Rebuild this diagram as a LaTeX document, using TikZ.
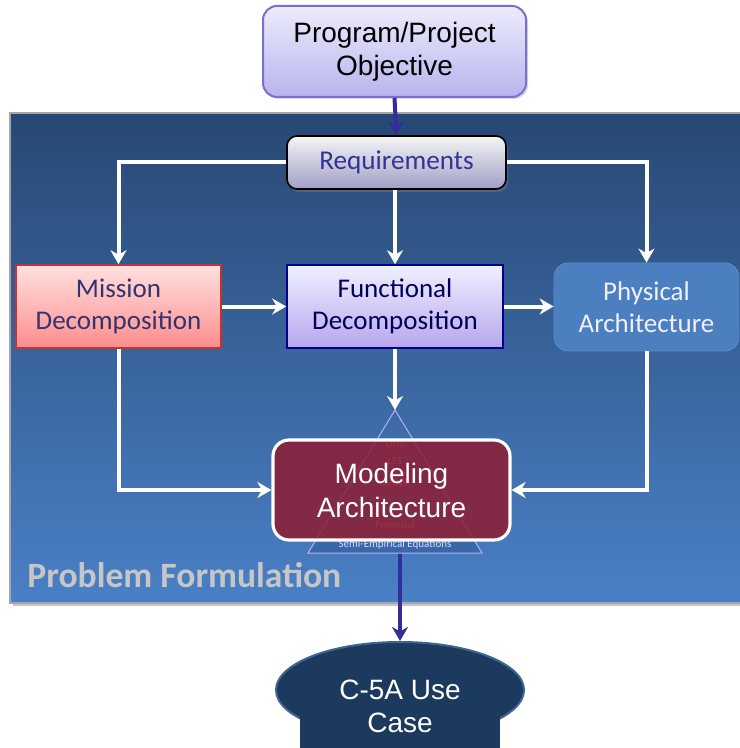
\documentclass[tikz,border=0pt]{standalone}
\usepackage{fontspec}
\setmainfont{Carlito}
\newfontfamily\arialfont{Liberation Sans}
\usetikzlibrary{arrows.meta,shadows,shapes.geometric,backgrounds}

\definecolor{panelTop}{HTML}{284873}
\definecolor{panelBot}{HTML}{4A80C6}
\definecolor{feedBlue}{HTML}{352C9C}
\definecolor{useFill}{HTML}{1B3A5E}
\definecolor{useEdge}{HTML}{3E6494}
\definecolor{modelRed}{HTML}{8E1C32}
\definecolor{physBlue}{HTML}{4B7FC0}
\definecolor{goalTop}{HTML}{ECECFC}
\definecolor{goalBot}{HTML}{B8B4EE}
\definecolor{goalEdge}{HTML}{7C6ECE}
\definecolor{bandBlue}{HTML}{3A67A8}

\begin{document}
\begin{tikzpicture}[x=0.5pt,y=-0.5pt]
    % Styles
    \tikzset{
        flow/.style={draw=white, line width=2pt, -{Stealth[length=7pt,width=8pt]}},
        feed/.style={draw=feedBlue, line width=2pt, -{Stealth[length=7pt,width=8pt]}},
        panel/.style={draw=gray!70, line width=0.6pt, top color=panelTop, bottom color=panelBot,
            drop shadow={opacity=0.45, shadow xshift=1.5pt, shadow yshift=-1.5pt}},
        goalbox/.style={rounded corners=7pt, draw=goalEdge, line width=1pt,
            top color=goalTop, bottom color=goalBot, align=center,
            minimum width=131.5pt, minimum height=45.5pt, inner sep=0pt,
            font=\arialfont\fontsize{14}{16.5}\selectfont,
            drop shadow={opacity=0.3, shadow xshift=1pt, shadow yshift=-1pt}},
        reqbox/.style={rounded corners=5pt, draw=black, line width=0.8pt,
            top color=gray!8, bottom color=gray!75!blue!60, text=blue!50!black!80,
            minimum width=109.5pt, minimum height=26.5pt, inner sep=0pt,
            font=\fontsize{13.6}{16}\selectfont,
            drop shadow={opacity=0.4, shadow xshift=1pt, shadow yshift=-1.5pt}},
        misbox/.style={draw=red!70!black!80, line width=0.8pt, top color=red!12,
            bottom color=red!45, text=blue!30!black!80, align=center,
            minimum width=102.5pt, minimum height=41.5pt, inner sep=0pt,
            font=\fontsize{13.5}{16}\selectfont},
        funcbox/.style={draw=blue!60!black, line width=0.8pt, top color=blue!6,
            bottom color=blue!60!violet!35, text=blue!35!black, align=center,
            minimum width=108pt, minimum height=41.5pt, inner sep=0pt,
            font=\fontsize{13.5}{16}\selectfont},
        physbox/.style={rounded corners=7pt, fill=physBlue, draw=physBlue!90!white,
            text=blue!6, align=center, minimum width=92.5pt, minimum height=44pt,
            inner sep=0pt, font=\fontsize{13.5}{16}\selectfont},
        modelbox/.style={rounded corners=8pt, fill=modelRed, fill opacity=0.85,
            text opacity=1, draw=white, line width=1.6pt, text=white, align=center,
            minimum width=118.5pt, minimum height=50pt, inner sep=0pt,
            font=\arialfont\fontsize{14}{17}\selectfont},
        layer/.style={text=red!30!white, font=\fontsize{5.5}{6}\selectfont, inner sep=0pt}
    }

    \clip (0,0) rectangle (739,748);

    % Problem formulation panel
    \begin{scope}[on background layer]
        \draw[panel] (10,113) rectangle (750,603);
    \end{scope}
    \node[anchor=west, text=gray!45, font=\bfseries\fontsize{17.8}{20}\selectfont, inner sep=0pt]
        (pftitle) at (27,575) {Problem Formulation};

    % Use case
    \node[ellipse, minimum width=124pt, minimum height=48pt, fill=useFill, draw=useEdge,
        line width=1pt] (use) at (400,690) {};
    \fill[useFill] (300,690) rectangle (500,760);
    \node[text=white, align=center, font=\arialfont\fontsize{14}{16.5}\selectfont]
        (usetext) at (400,706) {C-5A Use\\Case};

    % Modeling pyramid
    \coordinate (apex) at (395,410);
    \fill[bandBlue] (317,538) -- (473,538) -- (482,553) -- (308,553) -- cycle;
    \draw[blue!30!white, line width=0.5pt] (apex) -- (482,553) -- (308,553) -- cycle;
    \foreach \lbl/\y in {DNS/444, LES/461, RANS/483, Potential/525}
        \node[layer] (lay\lbl) at (395,\y) {\lbl};
    \node[layer, text=blue!15!white] (laySemi) at (395,545) {Semi-Empirical Equations};

    % Boxes
    \node[goalbox] (goal) at (394.5,51.5) {Program/Project\\Objective};
    \node[reqbox] (req) at (396.5,162.5) {Requirements};
    \node[misbox] (mis) at (118.5,306.5) {Mission\\Decomposition};
    \node[funcbox] (func) at (395,306.5) {Functional\\Decomposition};
    \node[physbox] (phys) at (646.5,307) {Physical\\Architecture};
    \node[modelbox] (model) at (391.5,490) {Modeling\\Architecture};

    % Connectors
    \draw[feed] (goal.south) -- (req.north);
    \draw[flow] (req.west) -| (mis.north);
    \draw[flow] (req.east) -| (phys.north);
    \draw[flow] (req.south -| func.north) -- (func.north);
    \draw[flow] (mis.east) -- (func.west);
    \draw[flow] (func.east) -- (func.east -| phys.west);
    \draw[flow] (func.south) -- (apex);
    \draw[flow] (mis.south) |- (model.west);
    \draw[flow] (phys.south) |- (model.east);
    \begin{scope}[on background layer]
        \draw[feed] (model.south -| use.north) -- (use.north);
    \end{scope}

\end{tikzpicture}
\end{document}
